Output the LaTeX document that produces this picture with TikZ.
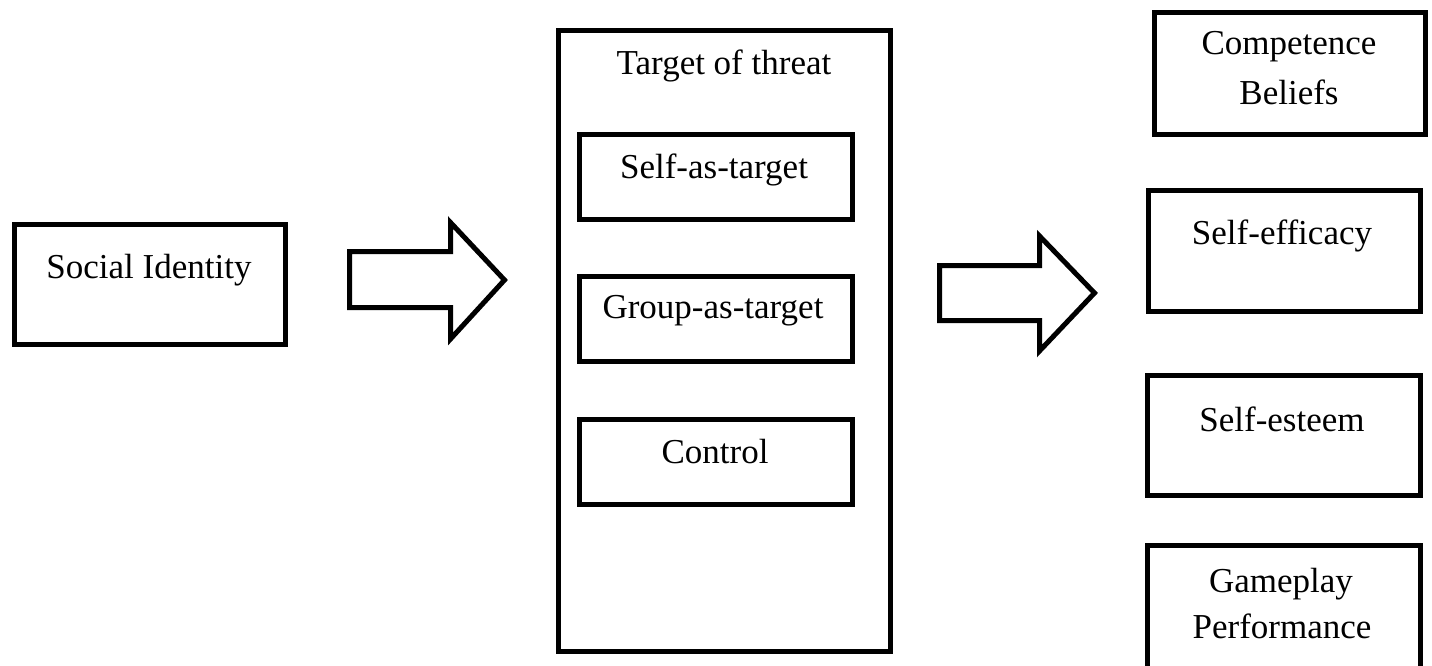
\documentclass[tikz,border=0pt]{standalone}
\usepackage{fontspec}
\setmainfont{Liberation Serif}
\begin{document}
\begin{tikzpicture}[x=1pt,y=-1pt,
  box/.style={draw=black,line width=5pt,rectangle,inner sep=0pt,fill=white},
  lbl/.style={anchor=base,inner sep=0pt,font=\fontsize{35}{42}\selectfont},
  blockarrow/.style={draw=black,line width=5pt,line join=miter,fill=white}]
\useasboundingbox (0,0) rectangle (1432,666);
\clip (0,0) rectangle (1432,666);
\fill[white] (0,0) rectangle (1432,666);
% boxes
\node[box,minimum width=271pt,minimum height=120pt] (soc) at (150,284.5) {};
\node[box,minimum width=332pt,minimum height=621pt] (threat) at (724.5,341) {};
\node[box,minimum width=273pt,minimum height=85pt] (self) at (716,177) {};
\node[box,minimum width=273pt,minimum height=85pt] (group) at (716,319) {};
\node[box,minimum width=273pt,minimum height=85pt] (control) at (716,462) {};
\node[box,minimum width=271pt,minimum height=122pt] (comp) at (1290,73.5) {};
\node[box,minimum width=272pt,minimum height=121pt] (eff) at (1284.5,251) {};
\node[box,minimum width=273pt,minimum height=120pt] (est) at (1284,435.5) {};
\node[box,minimum width=273pt,minimum height=125pt] (game) at (1284,608) {};
% texts
\node[lbl] (tsoc) at (149,278) {Social Identity};
\node[lbl] (tthreat) at (724,75) {Target of threat};
\node[lbl] (tself) at (714,178) {Self-as-target};
\node[lbl] (tgroup) at (713,318) {Group-as-target};
\node[lbl] (tcontrol) at (715,463) {Control};
\node[lbl] (tcomp1) at (1289,55) {Competence};
\node[lbl] (tcomp2) at (1289,105) {Beliefs};
\node[lbl] (teff) at (1282,244) {Self-efficacy};
\node[lbl] (test) at (1282,431) {Self-esteem};
\node[lbl] (tgame1) at (1281,592) {Gameplay};
\node[lbl] (tgame2) at (1282,638) {Performance};
% block arrows
\draw[blockarrow] (349.5,251.5) -- (450.5,251.5) -- (450.5,222.5) -- (504.5,280)
  -- (450.5,339) -- (450.5,307.5) -- (349.5,307.5) -- cycle;
\draw[blockarrow] (939.5,265.5) -- (1039.5,265.5) -- (1039.5,236) -- (1094.5,293)
  -- (1039.5,351) -- (1039.5,320.5) -- (939.5,320.5) -- cycle;
\end{tikzpicture}
\end{document}
